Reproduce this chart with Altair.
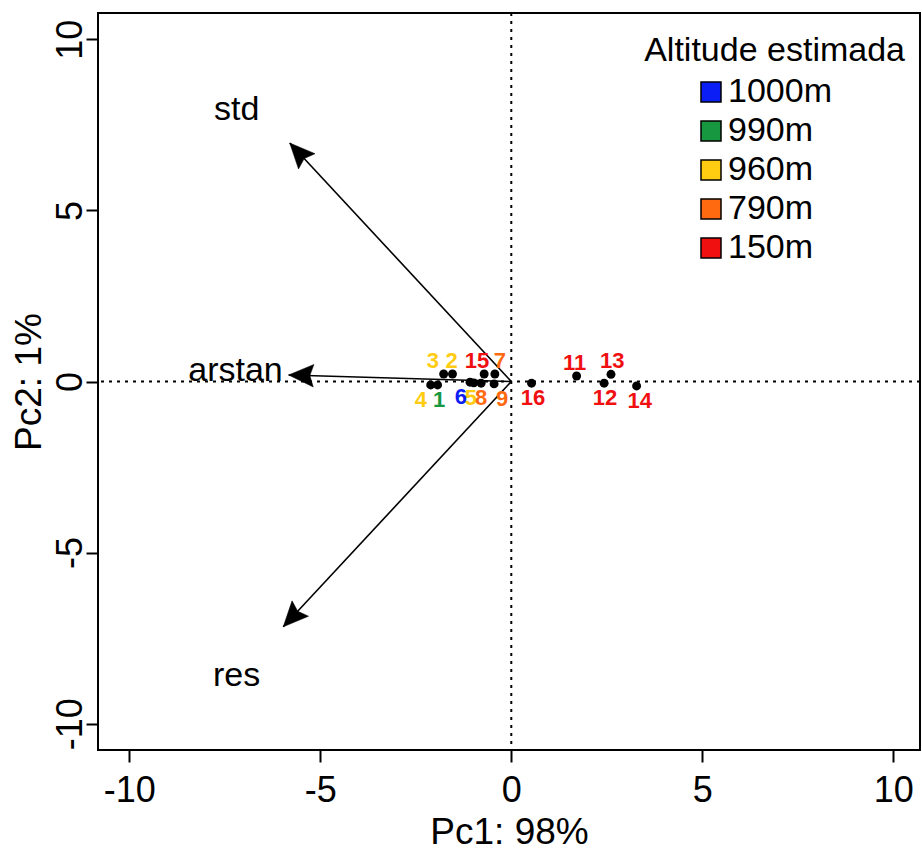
import math
import altair as alt
import pandas as pd

FONT = "Liberation Sans"

# ---- sample scores (PCA) ----
ids = ["1", "2", "3", "4", "5", "6", "7", "8", "9", "11", "12", "13", "14", "15", "16"]
pc1 = [-1.93, -1.54, -1.77, -2.11, -0.98, -1.08, -0.43, -0.79, -0.45, 1.71, 2.43, 2.61, 3.28, -0.71, 0.53]
pc2 = [-0.10, 0.22, 0.22, -0.10, -0.04, -0.02, 0.22, -0.05, -0.07, 0.16, -0.05, 0.21, -0.13, 0.22, -0.05]
# horizontal position of each sample's number label (Pc1 units)
label_pc1 = [-1.89, -1.56, -2.05, -2.37, -1.06, -1.32, -0.30, -0.79, -0.24, 1.66, 2.45, 2.64, 3.36, -0.90, 0.57]
altitude = ["990m", "960m", "960m", "960m", "960m", "1000m", "790m", "790m", "790m",
            "150m", "150m", "150m", "150m", "150m", "150m"]

# ---- variable loadings (arrows) ----
var_names = ["std", "arstan", "res"]
load_pc1 = [-5.80, -5.83, -5.97]
load_pc2 = [6.97, 0.19, -7.17]
lab_pc1 = [-7.19, -7.22, -7.19]
lab_pc2 = [7.94, 0.32, -8.61]

# ---- legend ----
legend_title = "Altitude estimada"
alt_levels = ["1000m", "990m", "960m", "790m", "150m"]
alt_colors = ["#0A1EF5", "#17973F", "#FFCC11", "#FF6A10", "#F01010"]

tick_vals = [-10, -5, 0, 5, 10]
X_DOMAIN = [-10.82, 10.70]
Y_DOMAIN = [-10.77, 10.77]
W, H = 822, 737

sx = W / (X_DOMAIN[1] - X_DOMAIN[0])
sy = H / (Y_DOMAIN[1] - Y_DOMAIN[0])

pts = pd.DataFrame({"id": ids, "pc1": pc1, "pc2": pc2, "lx": label_pc1, "alt": altitude})
arrows = pd.DataFrame({
    "name": var_names, "pc1": load_pc1, "pc2": load_pc2,
    "lx": lab_pc1, "ly": lab_pc2,
})
arrows["o"] = 0.0
arrows["ang"] = [
    (math.degrees(math.atan2(a * sx, b * sy)) + 360) % 360 for a, b in zip(load_pc1, load_pc2)
]
zero = pd.DataFrame({"v": [0.0]})

xs = alt.Scale(domain=X_DOMAIN, nice=False, zero=False)
ys = alt.Scale(domain=Y_DOMAIN, nice=False, zero=False)

xaxis = alt.Axis(
    values=tick_vals, title="Pc1: 98%", grid=False, domain=False,
    tickColor="black", tickWidth=2, tickSize=12,
    labelExpr="'' + datum.value",
    labelFont=FONT, labelFontSize=36, labelColor="black", labelPadding=11, labelFlush=False,
    titleFont=FONT, titleFontSize=37, titleFontWeight="normal", titleColor="black",
    titleBaseline="alphabetic", titleY=93,
)
yaxis = alt.Axis(
    values=tick_vals, title="Pc2: 1%", grid=False, domain=False,
    tickColor="black", tickWidth=2, tickSize=12,
    labelExpr="'' + datum.value",
    labelFont=FONT, labelFontSize=36, labelColor="black", labelPadding=5, labelFlush=False,
    labelAngle=270, labelAlign="center", labelBaseline="alphabetic",
    titleFont=FONT, titleFontSize=37, titleFontWeight="normal", titleColor="black",
    titleAngle=270, titleAlign="center", titleBaseline="alphabetic", titleX=-58, titleY=368.5,
)

vline = alt.Chart(zero).mark_rule(color="black", strokeWidth=2, strokeDash=[3, 5]).encode(
    x=alt.X("v:Q", scale=xs, axis=xaxis)
)
hline = alt.Chart(zero).mark_rule(color="black", strokeWidth=2, strokeDash=[3, 5]).encode(
    y=alt.Y("v:Q", scale=ys, axis=yaxis)
)

shafts = alt.Chart(arrows).mark_rule(color="black", strokeWidth=1.6).encode(
    x=alt.X("o:Q", scale=xs), y=alt.Y("o:Q", scale=ys),
    x2="pc1:Q", y2="pc2:Q",
)

HEAD = "M0,0 L0.9,2 L0,1.7 L-0.9,2 Z"
heads = alt.Chart(arrows).mark_point(
    shape=HEAD, filled=True, fill="black", stroke="black", strokeWidth=0.5, opacity=1, size=625
).encode(
    x=alt.X("pc1:Q", scale=xs), y=alt.Y("pc2:Q", scale=ys),
    angle=alt.Angle("ang:Q", scale=None),
)

var_labels = alt.Chart(arrows).mark_text(
    font=FONT, fontSize=34, color="black", baseline="middle", align="center"
).encode(
    x=alt.X("lx:Q", scale=xs), y=alt.Y("ly:Q", scale=ys), text="name:N"
)

dots = alt.Chart(pts).mark_circle(color="black", opacity=1, size=80).encode(
    x=alt.X("pc1:Q", scale=xs), y=alt.Y("pc2:Q", scale=ys)
)

color_enc = alt.Color(
    "alt:N",
    scale=alt.Scale(domain=alt_levels, range=alt_colors),
    legend=alt.Legend(
        title=None, orient="none", legendX=596, legendY=62,
        labelFont=FONT, labelFontSize=34, labelColor="black", labelLimit=400, labelOffset=0,
        symbolType="square", symbolSize=400, symbolStrokeColor="black", symbolStrokeWidth=1.5,
        symbolOpacity=1, rowPadding=5, padding=0,
    ),
)

def point_labels(cond, dy):
    return alt.Chart(pts).transform_filter(cond).mark_text(
        font=FONT, fontSize=22, fontWeight="bold", baseline="middle", align="center", dy=dy
    ).encode(
        x=alt.X("lx:Q", scale=xs), y=alt.Y("pc2:Q", scale=ys),
        text="id:N", color=color_enc,
    )

labels_up = point_labels("datum.pc2 > 0", -13)
labels_dn = point_labels("datum.pc2 <= 0", 15)

chart = alt.layer(vline, hline, shafts, heads, var_labels, dots, labels_up, labels_dn).properties(
    width=W, height=H,
    autosize=alt.AutoSizeParams(type="none"),
    padding={"left": 98, "top": 13, "right": 2, "bottom": 102},
    background="white",
    title=alt.TitleParams(
        text=legend_title, orient="top", anchor="end", frame="group",
        offset=0, dx=-15, dy=83, baseline="alphabetic",
        font=FONT, fontSize=34, fontWeight="normal", color="black",
    ),
).configure_view(stroke="black", strokeWidth=2)

chart.save("out.html", embed_options={"renderer": "svg", "actions": False})
